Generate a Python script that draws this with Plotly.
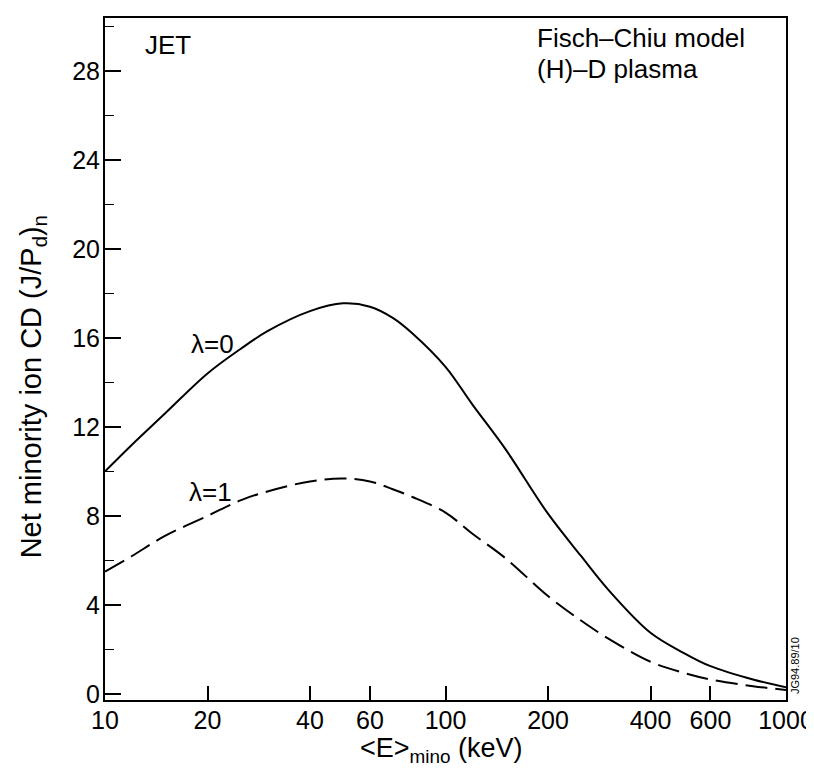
import plotly.graph_objects as go

# Energies (keV) and net minority ion current drive (J/Pd)_n
energy = [10, 12, 15, 20, 25, 30, 40, 50, 60, 70, 80, 100, 120, 150, 200, 250, 300, 400, 500, 600, 800, 1000]
cd_lambda0 = [10.0, 11.2, 12.6, 14.4, 15.5, 16.3, 17.2, 17.55, 17.4, 16.9, 16.2, 14.7, 13.0, 11.0, 8.1, 6.2, 4.7, 2.75, 1.85, 1.25, 0.65, 0.3]
cd_lambda1 = [5.5, 6.2, 7.1, 8.0, 8.7, 9.1, 9.55, 9.68, 9.55, 9.2, 8.85, 8.15, 7.2, 6.1, 4.4, 3.3, 2.5, 1.45, 0.95, 0.65, 0.35, 0.18]

x_tick_vals = [10, 20, 40, 60, 100, 200, 400, 600, 1000]
x_tick_text = ["10", "20", "40", "60", "100", "200", "400", "600", "1000"]
y_tick_vals = [0, 4, 8, 12, 16, 20, 24, 28]

FONT = "Liberation Sans, Arial, Helvetica, sans-serif"

fig = go.Figure()
fig.add_trace(go.Scatter(x=energy, y=cd_lambda0, mode="lines",
                         line=dict(color="black", width=2, shape="spline", smoothing=1.0),
                         showlegend=False))
fig.add_trace(go.Scatter(x=energy, y=cd_lambda1, mode="lines",
                         line=dict(color="black", width=2, dash="22px,8px", shape="spline", smoothing=1.0),
                         showlegend=False))

L, R, T, B = 97, 782, 8, 692
W, H = 814, 768

def px(x):
    return (x - L) / (R - L)

def py(y):
    return (B - y) / (B - T)

fig.update_layout(
    width=W, height=H,
    margin=dict(l=L, r=W - R, t=T, b=H - B),
    paper_bgcolor="white", plot_bgcolor="white",
    font=dict(family=FONT, color="black", size=25),
    xaxis=dict(type="log", range=[1, 3], tickvals=x_tick_vals, ticktext=x_tick_text,
               ticks="inside", ticklen=14, tickwidth=1.5, tickcolor="black",
               ticklabelstandoff=-3,
               showline=True, linecolor="black", linewidth=2, mirror=True,
               showgrid=False, zeroline=False, tickfont=dict(size=25, family=FONT)),
    yaxis=dict(range=[-0.27, 30.37], tickvals=y_tick_vals,
               ticks="inside", ticklen=16, tickwidth=1.5, tickcolor="black",
               ticklabelstandoff=-2,
               minor=dict(ticks="inside", ticklen=9, tickwidth=1.2, tickcolor="black",
                          tick0=0, dtick=2),
               showline=True, linecolor="black", linewidth=2, mirror=True,
               showgrid=False, zeroline=False, tickfont=dict(size=25, family=FONT)),
)

ann = [
    dict(text="JET", x=px(160), y=py(35), xanchor="center", yanchor="middle", font=dict(size=26)),
    dict(text="Fisch\u2013Chiu model", x=px(530), y=py(28), xanchor="left", yanchor="middle", font=dict(size=26)),
    dict(text="(H)\u2013D plasma", x=px(530), y=py(59), xanchor="left", yanchor="middle", font=dict(size=26)),
    dict(text="\u03bb=0", x=px(205), y=py(335), xanchor="center", yanchor="middle", font=dict(size=26)),
    dict(text="\u03bb=1", x=px(203), y=py(483), xanchor="center", yanchor="middle", font=dict(size=26)),
    dict(text="Net minority ion CD (J/P<sub>d</sub>)<sub>n</sub>", x=px(24), y=py(378),
         xanchor="center", yanchor="middle", textangle=-90, font=dict(size=29)),
    dict(text="<E><sub>mino</sub> (keV)", x=px(435), y=py(742),
         xanchor="center", yanchor="middle", font=dict(size=27)),
    dict(text="JG94.89/10", x=px(791), y=py(657), xanchor="center", yanchor="middle",
         textangle=-90, font=dict(size=11)),
]
for a in ann:
    a.update(xref="paper", yref="paper", showarrow=False)
    fig.add_annotation(**a)

fig.write_html("out.html")
